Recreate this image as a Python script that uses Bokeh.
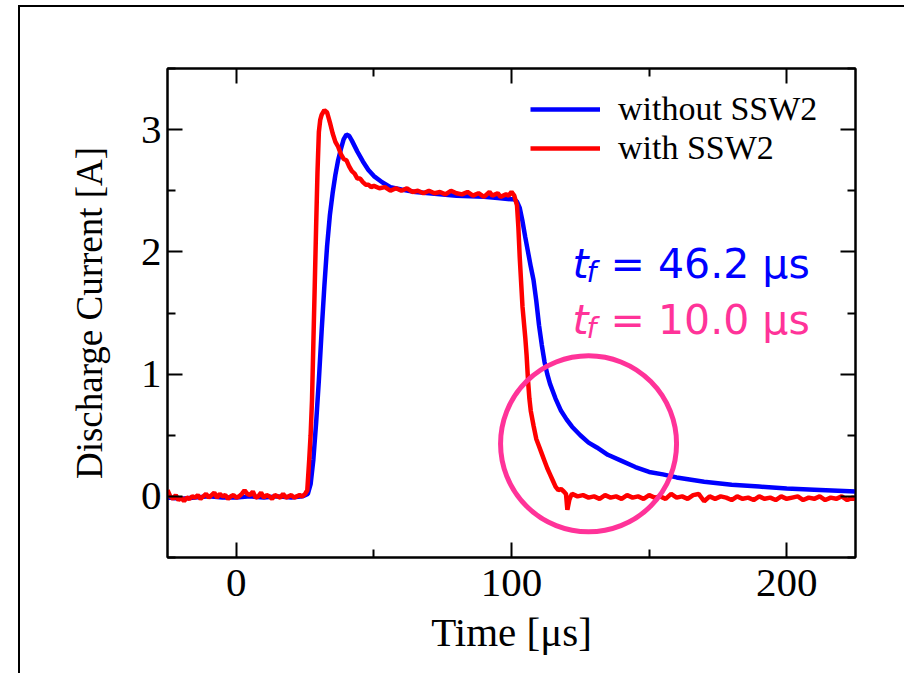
from bokeh.plotting import figure
from bokeh.models import (FixedTicker, LinearAxis, Label, Legend, LegendItem, Range1d)
from bokeh.embed import file_html
from bokeh.resources import INLINE

# ---- data ----
t_without = [-25, -20, -15, -10, -5, 0, 5, 10, 15, 20, 24, 26, 27, 28, 29, 30, 31, 32, 33, 34,
             35, 36, 37, 38, 39, 40, 41, 42, 44, 46, 48, 50, 53, 56, 60, 65, 70, 80, 90, 95,
             100, 101, 102, 103, 104, 105, 106, 107, 108, 109, 110, 111, 112, 113, 114, 116,
             118, 120, 122, 125, 128, 131, 135, 140, 145, 150, 155, 160, 170, 180, 190, 200,
             210, 225]
i_without = [-0.01, -0.02, -0.01, 0.0, -0.01, -0.01, 0.0, -0.01, 0.0, -0.01, 0.0, 0.02, 0.1,
             0.3, 0.6, 0.95, 1.35, 1.72, 2.05, 2.3, 2.48, 2.63, 2.75, 2.84, 2.92, 2.96, 2.95,
             2.91, 2.82, 2.74, 2.67, 2.62, 2.57, 2.53, 2.51, 2.49, 2.48, 2.46, 2.45, 2.44,
             2.43, 2.43, 2.41, 2.36, 2.25, 2.12, 2.0, 1.88, 1.77, 1.6, 1.4, 1.24, 1.1, 1.0,
             0.92, 0.8, 0.7, 0.63, 0.57, 0.5, 0.44, 0.4, 0.34, 0.29, 0.24, 0.2, 0.18, 0.155,
             0.12, 0.095, 0.08, 0.065, 0.055, 0.04]

t_with = [-25, -24, -23, -22, -21, -20, -19, -18, -17, -16, -15, -14, -13, -12, -11, -10, -9,
          -8, -7, -6, -5, -4, -3, -2, -1, 0, 1, 2, 3, 4, 5, 6, 7, 8, 9, 10, 11, 12, 13, 14, 15,
          16, 17, 18, 19, 20, 21, 22, 23, 24, 25, 25.8, 26.5, 27, 27.5, 28, 28.5, 29, 29.5,
          30, 30.5, 31, 32, 33, 34, 35, 36, 37, 38, 39, 40, 41, 42, 43, 44, 45, 46, 47, 48,
          49, 50, 52, 54, 56, 58, 60, 62, 64, 66, 68, 70, 72, 74, 76, 78, 80, 82, 84, 86, 88,
          90, 92, 93, 95, 96, 98, 99, 100, 101, 102, 102.5, 103, 103.5, 104, 105, 105.5, 106,
          106.5, 107, 108, 109, 110, 111, 112, 113, 114, 115, 116, 117, 118, 119, 119.8,
          120.3, 121, 121.5, 122, 124, 126, 128, 130, 132, 134, 136, 138, 140, 142, 144, 146,
          148, 150, 152, 154, 156, 158, 160, 162, 164, 166, 168, 170, 172, 174, 176, 178, 180,
          182, 184, 186, 188, 190, 192, 194, 196, 198, 200, 202, 204, 206, 208, 210, 212, 214,
          216, 218, 220, 222, 224, 225]
i_with = [0.05, 0.0, -0.02, 0.01, -0.03, -0.01, -0.04, -0.01, -0.02, 0.0, -0.01, 0.01, -0.02,
          0.0, 0.02, -0.01, 0.01, 0.03, -0.01, 0.02, 0.0, 0.01, -0.02, 0.0, 0.01, -0.01, 0.0,
          0.02, 0.05, 0.02, 0.01, 0.04, -0.01, 0.0, 0.03, -0.01, 0.01, 0.0, -0.02, 0.01, 0.0,
          -0.01, 0.02, -0.01, 0.0, 0.01, -0.01, 0.0, 0.01, 0.0, 0.02, 0.05, 0.3, 0.5, 0.78,
          1.25, 1.72, 2.2, 2.65, 2.98, 3.08, 3.12, 3.16, 3.14, 3.06, 2.97, 2.9, 2.86, 2.8,
          2.76, 2.75, 2.7, 2.66, 2.64, 2.6, 2.6, 2.57, 2.55, 2.55, 2.53, 2.54, 2.52, 2.53, 2.5,
          2.52, 2.5, 2.52, 2.49, 2.5, 2.48, 2.5, 2.48, 2.49, 2.47, 2.5, 2.48, 2.47, 2.49, 2.46,
          2.48, 2.45, 2.49, 2.46, 2.48, 2.45, 2.47, 2.46, 2.49, 2.46, 2.38, 2.2, 1.95, 1.75,
          1.55, 1.3, 1.15, 0.95, 0.8, 0.7, 0.58, 0.47, 0.41, 0.35, 0.29, 0.23, 0.18, 0.13,
          0.08, 0.05, 0.06, 0.04, 0.02, -0.11, -0.03, 0.0, 0.02, 0.0, 0.01, -0.01, 0.0, -0.02,
          0.01, -0.01, 0.0, -0.02, 0.01, -0.01, 0.0, -0.02, 0.01, -0.01, 0.0, -0.02, 0.02,
          -0.01, 0.0, -0.02, 0.01, 0.02, -0.04, 0.0, -0.02, 0.0, -0.01, -0.03, 0.0, -0.02,
          -0.01, -0.03, 0.0, -0.02, -0.01, -0.03, 0.0, -0.02, -0.01, 0.0, -0.03, -0.01, -0.02,
          0.0, -0.03, -0.01, -0.02, 0.0, -0.03, -0.01, -0.02]

labels = ["without SSW2", "with SSW2"]
tf_values = ["46.2", "10.0"]
circle_center = [128]
circle_center_y = [0.43]

x_major = [0, 100, 200]
x_minor = [50, 150]
y_major = [0, 1, 2, 3]
y_minor = [-0.5, 0.5, 1.5, 2.5, 3.5]

BLUE = "#0000ff"
RED = "#ff0000"
PINK = "#ff3399"
SERIF = "Liberation Serif"
SANS = "DejaVu Sans"

p = figure(width=886, height=668, output_backend="svg", toolbar_location=None,
           x_range=Range1d(-25, 225), y_range=Range1d(-0.5, 3.5),
           min_border_left=147, min_border_right=51, min_border_top=61, min_border_bottom=118)
# slide frame (top and left edges of the original slide)
p.styles = {"margin-left": "18px", "margin-top": "5px",
            "border-left": "2px solid black", "border-top": "2px solid black"}

p.xgrid.visible = False
p.ygrid.visible = False
p.outline_line_color = "black"
p.outline_line_width = 2

r_blue = p.line(t_without, i_without, line_color=BLUE, line_width=4.5)
r_red = p.line(t_with, i_with, line_color=RED, line_width=4.5)

p.scatter(circle_center, circle_center_y, size=176, marker="circle", fill_color=None,
          line_color=PINK, line_width=5)


def style_axis(ax, ticks, minors, show_labels):
    ax.ticker = FixedTicker(ticks=ticks, minor_ticks=minors)
    ax.major_tick_in = 15
    ax.major_tick_out = 0
    ax.minor_tick_in = 8
    ax.minor_tick_out = 0
    ax.major_tick_line_width = 2
    ax.minor_tick_line_width = 2
    ax.axis_line_width = 2
    ax.axis_line_color = "black"
    ax.major_tick_line_color = "black"
    ax.minor_tick_line_color = "black"
    ax.major_label_text_font = SERIF
    ax.major_label_text_font_size = "41px"
    ax.major_label_text_color = "black" if show_labels else None
    ax.axis_label_text_font = SERIF
    ax.axis_label_text_font_style = "normal"
    ax.axis_label_text_color = "black"


xa = p.xaxis[0]
ya = p.yaxis[0]
style_axis(xa, x_major, x_minor, True)
style_axis(ya, y_major, y_minor, True)
xa.axis_label = "Time [μs]"
ya.axis_label = "Discharge Current [A]"
xa.axis_label_text_font_size = "41px"
ya.axis_label_text_font_size = "37px"
xa.major_label_standoff = 12
ya.major_label_standoff = 6
xa.axis_label_standoff = 10
ya.axis_label_standoff = 28

top_ax = LinearAxis()
style_axis(top_ax, x_major, x_minor, False)
top_ax.major_label_text_font_size = "0px"
p.add_layout(top_ax, "above")
right_ax = LinearAxis()
style_axis(right_ax, y_major, y_minor, False)
right_ax.major_label_text_font_size = "0px"
p.add_layout(right_ax, "right")

legend = Legend(items=[LegendItem(label=labels[0], renderers=[r_blue]),
                       LegendItem(label=labels[1], renderers=[r_red])],
                location=(363, 390), border_line_color=None, background_fill_alpha=0,
                padding=0, margin=0, spacing=1, glyph_width=70, glyph_height=34,
                label_height=34, label_standoff=18, label_text_font=SERIF,
                label_text_font_size="34px", label_text_color="black",
                label_text_line_height=0.9, label_text_baseline="middle")
p.add_layout(legend, "center")

tf_colors = [BLUE, PINK]
tf_y = [1.90, 1.44]
for val, col, yy in zip(tf_values, tf_colors, tf_y):
    p.add_layout(Label(x=122.2, y=yy, text="t", text_font=SANS, text_font_style="italic",
                       text_font_size="41px", text_color=col, text_baseline="alphabetic"))
    p.add_layout(Label(x=122.2, y=yy, x_offset=14, y_offset=-8, text="f", text_font=SANS,
                       text_font_style="italic", text_font_size="28px", text_color=col,
                       text_baseline="alphabetic"))
    p.add_layout(Label(x=122.2, y=yy, x_offset=38, text="= " + val + " μs", text_font=SANS,
                       text_font_size="41px", text_color=col, text_baseline="alphabetic"))

open("out.html", "w").write(file_html(p, INLINE))
